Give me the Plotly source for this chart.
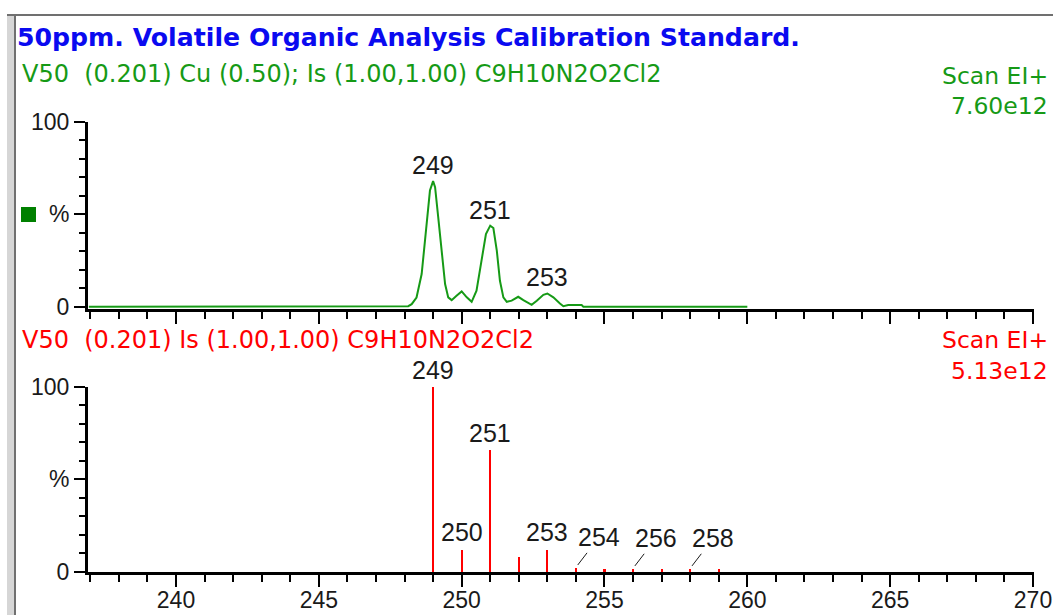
import plotly.graph_objects as go

W, H = 1053, 615

# Profile (continuum) scan: m/z and relative intensity (%)
profile_mz = [236.95, 248.13, 248.25, 248.42, 248.60, 248.77, 248.89, 249.00, 249.07,
              249.18, 249.30, 249.42, 249.53, 249.65, 249.82, 250.00, 250.18, 250.35,
              250.52, 250.70, 250.85, 251.00, 251.11, 251.23, 251.34, 251.46, 251.58,
              251.75, 251.98, 252.16, 252.45, 252.63, 252.86, 253.00, 253.21, 253.44,
              253.56, 253.73, 254.20, 254.26, 260.00]
profile_pct = [0, 0.3, 1.4, 5.0, 17.7, 44.8, 62.9, 68.0, 64.7,
               48.4, 30.4, 12.3, 5.1, 3.6, 6.0, 8.3, 5.1, 2.7,
               8.7, 24.9, 39.4, 43.9, 42.6, 30.4, 14.1, 5.1, 2.7,
               3.3, 5.4, 3.6, 1.1, 3.3, 6.5, 7.2, 5.1, 1.8,
               0.3, 0.9, 0.9, 0, 0]

# Labelled apexes of the profile scan
profile_peak_mz = [249, 251, 253]
profile_peak_pct = [68.0, 43.9, 7.2]

# Theoretical isotope pattern (centroid sticks)
stick_mz = [249, 250, 251, 252, 253, 254, 255, 256, 257, 258, 259]
stick_pct = [100, 12.4, 65.8, 8.2, 12.4, 2.5, 2.0, 2.0, 2.0, 2.0, 2.0]

# Sticks labelled directly above, and sticks labelled through a leader line
stick_labels_plain = [249, 250, 251, 253]
stick_labels_leader = [254, 256, 258]

x_ticks = [240, 245, 250, 255, 260, 265, 270]

GREEN = "#169a16"
RED = "#ff0000"
BLUE = "#0a0af0"
INK = "#1a1a1a"
LAB_FONT = "Liberation Sans"
HDR_FONT = "DejaVu Sans"


def px(x):
    return x / W


def py(y):
    return 1 - y / H


fig = go.Figure()

fig.add_trace(go.Scatter(
    x=profile_mz, y=profile_pct, mode="lines",
    line=dict(color=GREEN, width=2), xaxis="x", yaxis="y", showlegend=False,
))

fig.add_trace(go.Bar(
    x=stick_mz, y=stick_pct, width=0.075, marker=dict(color=RED, line=dict(width=0)),
    xaxis="x2", yaxis="y2", showlegend=False,
))

x_common = dict(
    range=[236.92, 270.035], domain=[px(88), px(1034)], automargin=False,
    showgrid=False, zeroline=False, showline=True, linecolor="black", linewidth=3,
    ticks="outside", tickcolor="black", tickwidth=2, ticklen=12,
    tickmode="array", tickvals=x_ticks, ticktext=[str(v) for v in x_ticks],
    minor=dict(ticks="outside", dtick=1, tick0=0, ticklen=7, tickcolor="black", tickwidth=2),
    tickfont=dict(family=LAB_FONT, size=23, color=INK),
    fixedrange=True,
)

y_common = dict(
    showgrid=False, zeroline=False, showline=True, linecolor="black", linewidth=3,
    automargin=False,
    ticks="outside", tickcolor="black", tickwidth=2, ticklen=11,
    tickmode="array", tickvals=[0, 50, 100], ticktext=["0", "%", "100"],
    minor=dict(ticks="outside", tickmode="array", tickvals=[10, 20, 30, 40, 60, 70, 80, 90],
               ticklen=6, tickcolor="black", tickwidth=2),
    tickfont=dict(family=LAB_FONT, size=23, color=INK),
    fixedrange=True,
)

fig.update_layout(
    width=W, height=H, autosize=False,
    margin=dict(l=0, r=0, t=0, b=0, pad=0, autoexpand=False),
    paper_bgcolor="white", plot_bgcolor="white",
    bargap=0,
    xaxis=dict(x_common, anchor="y", showticklabels=False),
    yaxis=dict(y_common, anchor="x", range=[-1.2, 100], domain=[py(309), py(122)]),
    xaxis2=dict(x_common, anchor="y2", showticklabels=True, ticklabelstandoff=-7),
    yaxis2=dict(y_common, anchor="x2", range=[0, 100], domain=[py(572), py(386.5)]),
)

ann = []


def header(text, x, y, color, anchor="left", size=24, bold=False):
    ann.append(dict(
        text=text, x=px(x), y=py(y), xref="paper", yref="paper",
        xanchor=anchor, yanchor="middle", showarrow=False,
        font=dict(family=HDR_FONT, size=size, color=color, weight="bold" if bold else "normal"),
    ))


header("50ppm. Volatile Organic Analysis Calibration Standard.", 15, 37, BLUE, size=25.2, bold=True)
header("V50\u00a0\u00a0(0.201) Cu (0.50); Is (1.00,1.00) C9H10N2O2Cl2", 20, 74, GREEN)
header("Scan EI+", 1050, 76, GREEN, anchor="right", size=23.5)
header("7.60e12", 1050, 106, GREEN, anchor="right", size=23.5)
header("V50\u00a0\u00a0(0.201) Is (1.00,1.00) C9H10N2O2Cl2", 20, 340, RED)
header("Scan EI+", 1050, 340, RED, anchor="right", size=23.5)
header("5.13e12", 1050, 371, RED, anchor="right", size=23.5)

# Peak labels on the profile scan
for m, v in zip(profile_peak_mz, profile_peak_pct):
    ann.append(dict(
        text=str(m), x=m, y=v, xref="x", yref="y", xanchor="center", yanchor="bottom",
        yshift=0, showarrow=False, font=dict(family=LAB_FONT, size=25, color=INK),
    ))

# Stick labels
for m in stick_labels_plain:
    v = stick_pct[stick_mz.index(m)]
    ann.append(dict(
        text=str(m), x=m, y=v, xref="x2", yref="y2", xanchor="center", yanchor="bottom",
        yshift=1, showarrow=False, font=dict(family=LAB_FONT, size=25, color=INK),
    ))

for m in stick_labels_leader:
    v = stick_pct[stick_mz.index(m)]
    ann.append(dict(
        text=str(m), x=m, y=v, xref="x2", yref="y2",
        showarrow=True, arrowhead=0, arrowwidth=1, arrowcolor=INK, standoff=3,
        ax=23, ay=-30, font=dict(family=LAB_FONT, size=25, color=INK),
    ))

fig.update_layout(annotations=ann)

# Window frame and trace marker
shapes = [
    dict(type="rect", xref="paper", yref="paper", x0=px(7), x1=px(14), y0=0, y1=py(14),
         fillcolor="#d6d6d6", line=dict(width=0), layer="below"),
    dict(type="line", xref="paper", yref="paper", x0=px(15), x1=px(15), y0=0, y1=py(15),
         line=dict(color="#707070", width=2)),
    dict(type="line", xref="paper", yref="paper", x0=px(7), x1=1, y0=py(15), y1=py(15),
         line=dict(color="#707070", width=2)),
    dict(type="rect", xref="paper", yref="paper", x0=px(21), x1=px(36), y0=py(222), y1=py(207),
         fillcolor="#008000", line=dict(width=0)),
]
fig.update_layout(shapes=shapes)

fig.write_html("out.html")
